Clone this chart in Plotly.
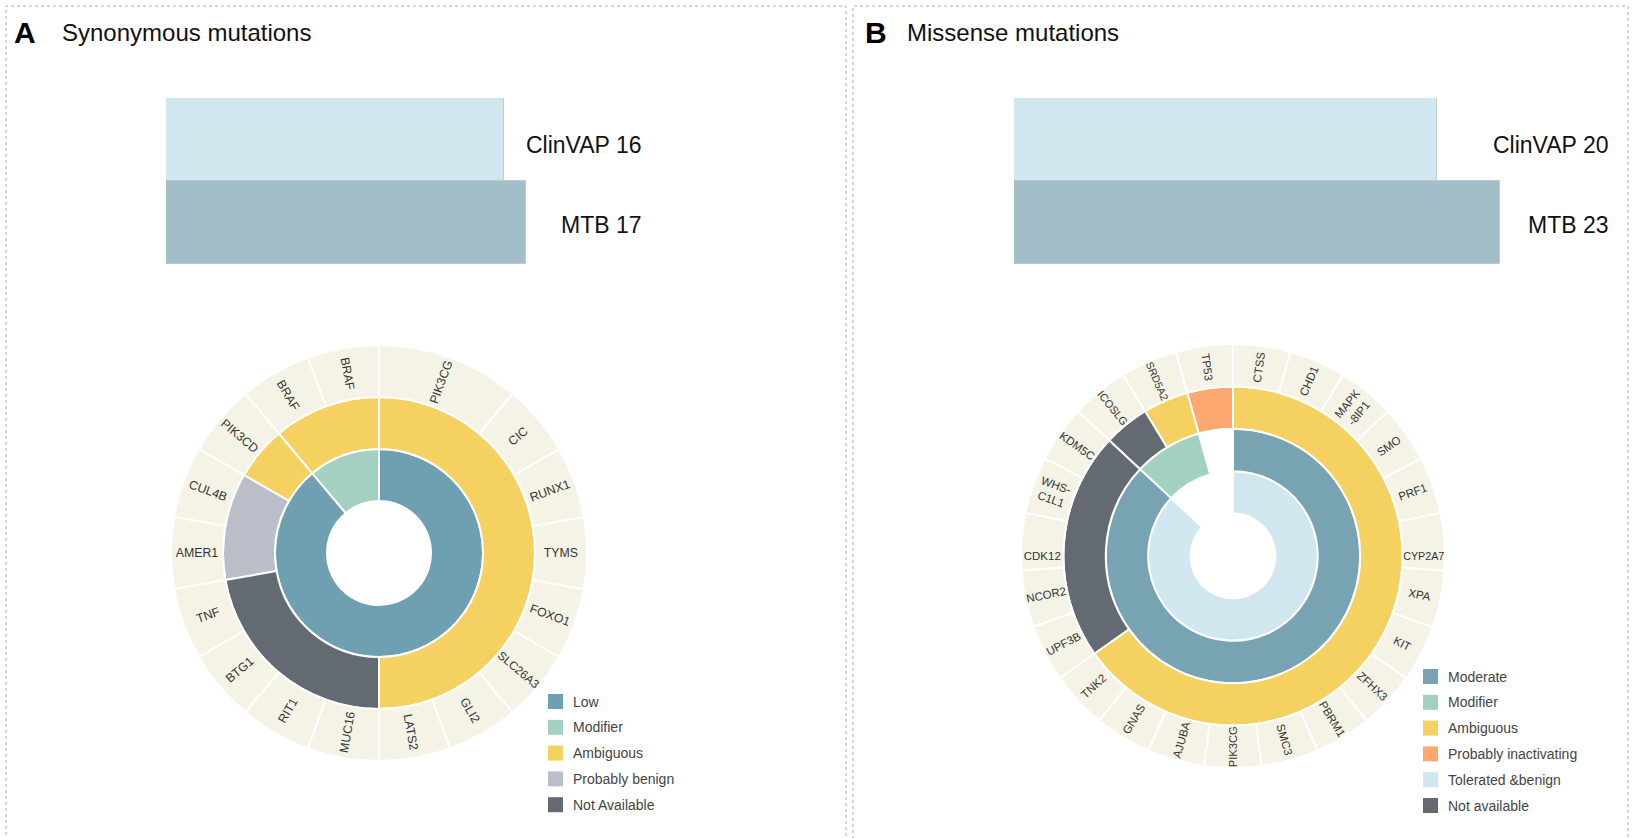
import plotly.graph_objects as go

W, H = 1636, 838

# ---- counts of variants reported by each source ----
syn_sources = ["ClinVAP", "MTB"]
syn_totals = [16, 17]
mis_sources = ["ClinVAP", "MTB"]
mis_totals = [20, 23]

# ---- synonymous mutations: impact -> classification -> gene ----
syn_genes = ["PIK3CG", "CIC", "RUNX1", "TYMS", "FOXO1", "SLC26A3", "GLI2", "LATS2",
             "MUC16", "RIT1", "BTG1", "TNF", "AMER1", "CUL4B", "PIK3CD", "BRAF", "BRAF"]
syn_counts = [2, 1, 1, 1, 1, 1, 1, 1, 1, 1, 1, 1, 1, 1, 1, 1, 1]
syn_impact = ["Low"] * 15 + ["Modifier"] * 2
syn_class = (["Ambiguous"] * 8 + ["Not Available"] * 4 + ["Probably benign"] * 2
             + ["Ambiguous"] + ["Ambiguous"] * 2)

# ---- missense mutations: prediction -> impact -> classification -> gene ----
mis_genes = ["CTSS", "CHD1", "MAPK<br>-8IP1", "SMO", "PRF1", "CYP2A7", "XPA", "KIT",
             "ZFHX3", "PBRM1", "SMC3", "PIK3CG", "AJUBA", "GNAS", "TNK2", "UPF3B",
             "NCOR2", "CDK12", "WHS-<br>C1L1", "KDM5C", "ICOSLG", "SRD5A2", "TP53"]
mis_counts = [1] * 23
mis_pred = ["Tolerated &benign"] * 20 + [None] * 3
mis_impact = ["Moderate"] * 20 + ["Modifier"] * 2 + [None]
mis_class = (["Ambiguous"] * 15 + ["Not available"] * 5
             + ["Not available", "Ambiguous", "Probably inactivating"])

# ---- legends ----
syn_legend = ["Low", "Modifier", "Ambiguous", "Probably benign", "Not Available"]
mis_legend = ["Moderate", "Modifier", "Ambiguous", "Probably inactivating",
              "Tolerated &benign", "Not available"]

COLORS = {
    "Low": "#6fa0b1",
    "Moderate": "#78a3b2",
    "Modifier": "#a3d0c1",
    "Ambiguous": "#f4d161",
    "Probably benign": "#babec9",
    "Not Available": "#636a71",
    "Not available": "#636a71",
    "Probably inactivating": "#fda870",
    "Tolerated &benign": "#d0e7f0",
    None: "#ffffff",
}
GENE_BG = "#f5f3e6"
FONT = "Liberation Sans, Arial, Helvetica, sans-serif"


def px_x(v):
    return v / W


def px_y(v):
    return 1 - v / H


def build_tree(levels, genes, counts):
    """Group consecutive runs per ring into sunburst nodes (clockwise order)."""
    ids, parents, labels, values, colors, texts = ["root"], [""], [""], [sum(counts)], ["#ffffff"], [""]
    n = len(genes)
    prev_ids = ["root"] * n
    for depth, lev in enumerate(levels):
        cur_ids = [None] * n
        i = 0
        run = 0
        while i < n:
            j = i
            while (j + 1 < n and lev[j + 1] == lev[i] and prev_ids[j + 1] == prev_ids[i]):
                j += 1
            nid = f"d{depth}r{run}"
            run += 1
            ids.append(nid)
            parents.append(prev_ids[i])
            labels.append(lev[i] or "")
            values.append(sum(counts[i:j + 1]))
            colors.append(COLORS[lev[i]])
            texts.append("")
            for k in range(i, j + 1):
                cur_ids[k] = nid
            i = j + 1
        prev_ids = cur_ids
    for k, g in enumerate(genes):
        ids.append(f"g{k}")
        parents.append(prev_ids[k])
        labels.append(g)
        values.append(counts[k])
        colors.append(GENE_BG)
        texts.append(g)
    # sunburst lays siblings out counter-clockwise; reverse for clockwise reading
    return [lst[::-1] for lst in (ids, parents, labels, values, colors, texts)]


def sunburst(levels, genes, counts, domain, fsize):
    ids, parents, labels, values, colors, texts = build_tree(levels, genes, counts)
    return go.Sunburst(
        ids=ids, parents=parents, labels=labels, values=values,
        branchvalues="total", sort=False, rotation=90,
        text=texts, textinfo="text", insidetextorientation="radial",
        textfont=dict(family=FONT, size=fsize, color="#333333"),
        marker=dict(colors=colors, line=dict(color="#ffffff", width=2)),
        leaf=dict(opacity=1), hoverinfo="skip", domain=domain,
    )


fig = go.Figure()

# sunburst A: centre (379, 553), radius 208
fig.add_trace(sunburst([syn_impact, syn_class], syn_genes, syn_counts,
                       dict(x=[px_x(171), px_x(587)], y=[px_y(761), px_y(345)]), 12.3))
# sunburst B: centre (1233, 556), radius 212
fig.add_trace(sunburst([mis_pred, mis_impact, mis_class], mis_genes, mis_counts,
                       dict(x=[px_x(1021), px_x(1445)], y=[px_y(768), px_y(344)]), 11.5))

# source totals as horizontal bars
BAR_COLORS = ["#d0e7f0", "#a2bec9"]
UNIT = 21.15
for k, (src, tot) in enumerate([(syn_sources, syn_totals), (mis_sources, mis_totals)]):
    xa = "x" if k == 0 else "x2"
    ya = "y" if k == 0 else "y2"
    fig.add_trace(go.Bar(
        x=tot, y=src, orientation="h", xaxis=xa, yaxis=ya, width=1,
        marker=dict(color=BAR_COLORS, line=dict(color="#c4c9cc", width=1)),
        hoverinfo="skip", showlegend=False,
    ))

layout_axes = {}
for k, x0 in enumerate([166, 1014]):
    sfx = "" if k == 0 else "2"
    layout_axes[f"xaxis{sfx}"] = dict(domain=[px_x(x0), px_x(x0 + UNIT * 25)], range=[0, 25],
                                      visible=False, fixedrange=True)
    layout_axes[f"yaxis{sfx}"] = dict(domain=[px_y(264), px_y(98)], type="category",
                                      categoryarray=["MTB", "ClinVAP"], range=[-0.5, 1.5],
                                      visible=False, fixedrange=True)

annotations = []
shapes = []

# titles
for letter, title, xl, xt in [("A", "Synonymous mutations", 12, 60), ("B", "Missense mutations", 863, 905)]:
    annotations.append(dict(text=f"<b>{letter}</b>", x=px_x(xl), y=px_y(33), xref="paper", yref="paper",
                            xanchor="left", yanchor="middle", showarrow=False,
                            font=dict(family=FONT, size=30, color="#000000")))
    annotations.append(dict(text=title, x=px_x(xt), y=px_y(33), xref="paper", yref="paper",
                            xanchor="left", yanchor="middle", showarrow=False,
                            font=dict(family=FONT, size=24, color="#111111")))

# bar value labels
for src, tot, xr in [(syn_sources, syn_totals, 644), (mis_sources, mis_totals, 1611)]:
    for name, val, yc in zip(src, tot, [145, 225]):
        annotations.append(dict(text=f"{name} {val}", x=px_x(xr), y=px_y(yc), xref="paper", yref="paper",
                                xanchor="right", yanchor="middle", showarrow=False,
                                font=dict(family=FONT, size=23, color="#111111")))

# legends
for items, xs, y0 in [(syn_legend, 548, 694), (mis_legend, 1423, 669)]:
    for i, name in enumerate(items):
        top = y0 + 25.8 * i
        shapes.append(dict(type="rect", xref="paper", yref="paper",
                           x0=px_x(xs), x1=px_x(xs + 15), y0=px_y(top + 15), y1=px_y(top),
                           fillcolor=COLORS[name], line=dict(width=0)))
        annotations.append(dict(text=name, x=px_x(xs + 23), y=px_y(top + 7.5), xref="paper", yref="paper",
                                xanchor="left", yanchor="middle", showarrow=False,
                                font=dict(family=FONT, size=14, color="#444444")))

# dotted panel frames
for x0, x1 in [(6, 846), (853, 1628)]:
    shapes.append(dict(type="rect", xref="paper", yref="paper",
                       x0=px_x(x0), x1=px_x(x1), y0=px_y(860), y1=px_y(6),
                       line=dict(color="#aaaaaa", width=1, dash="dot"), fillcolor="rgba(0,0,0,0)"))

fig.update_layout(
    width=W, height=H, margin=dict(l=0, r=0, t=0, b=0),
    paper_bgcolor="#ffffff", plot_bgcolor="#ffffff",
    showlegend=False, bargap=0,
    annotations=annotations, shapes=shapes,
    **layout_axes,
)

fig.write_html("out.html")
